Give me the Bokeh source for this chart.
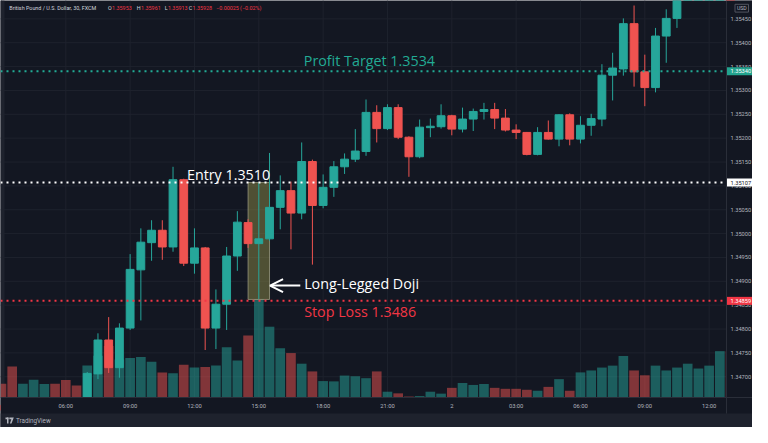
from bokeh.plotting import figure
from bokeh.models import Range1d, ColumnDataSource, Arrow, OpenHead
from bokeh.core.properties import value
from bokeh.embed import file_html
from bokeh.resources import INLINE

# ---------------- data ----------------
time_ticks = [6, 12, 18, 24, 30, 36, 42, 48, 54, 60, 66]
time_labels = ["06:00", "09:00", "12:00", "15:00", "18:00", "21:00", "2",
               "03:00", "06:00", "09:00", "12:00"]
price_ticks = [1.3470, 1.3475, 1.3480, 1.3485, 1.3490, 1.3495, 1.3500, 1.3505,
               1.3510, 1.3515, 1.3520, 1.3525, 1.3530, 1.3535, 1.3540, 1.3545]

opens = [
    1.34640, 1.34630, 1.34600, 1.34615, 1.34632, 1.34645, 1.34633, 1.34620, 1.34612, 1.34706,
    1.34777, 1.34719, 1.34802, 1.34924, 1.34981, 1.35007, 1.34972, 1.35113, 1.34938, 1.34970,
    1.34802, 1.34852, 1.34953, 1.35023, 1.34979, 1.34989, 1.35055, 1.35090, 1.35043, 1.35151,
    1.35059, 1.35097, 1.35140, 1.35156, 1.35172, 1.35254, 1.35220, 1.35264, 1.35202, 1.35161,
    1.35222, 1.35224, 1.35247, 1.35219, 1.35240, 1.35256, 1.35260, 1.35242, 1.35217, 1.35212,
    1.35166, 1.35212, 1.35198, 1.35249, 1.35198, 1.35227, 1.35240, 1.35332, 1.35345, 1.35440,
    1.35339, 1.35306, 1.35414, 1.35451, 1.35505, 1.35570, 1.35690, 1.35820, 1.35953]
highs = [
    1.34648, 1.34636, 1.34622, 1.34640, 1.34650, 1.34650, 1.34638, 1.34626, 1.34710, 1.34791,
    1.34825, 1.34812, 1.34957, 1.35011, 1.35028, 1.35028, 1.35140, 1.35115, 1.35011, 1.34972,
    1.34883, 1.34972, 1.35047, 1.35030, 1.35107, 1.35169, 1.35122, 1.35109, 1.35191, 1.35155,
    1.35124, 1.35152, 1.35168, 1.35219, 1.35281, 1.35269, 1.35271, 1.35271, 1.35204, 1.35239,
    1.35241, 1.35271, 1.35249, 1.35264, 1.35262, 1.35274, 1.35274, 1.35261, 1.35229, 1.35213,
    1.35223, 1.35237, 1.35250, 1.35252, 1.35246, 1.35251, 1.35355, 1.35379, 1.35451, 1.35478,
    1.35375, 1.35431, 1.35470, 1.35520, 1.35580, 1.35700, 1.35830, 1.35960, 1.35961]
lows = [
    1.34622, 1.34590, 1.34594, 1.34610, 1.34626, 1.34628, 1.34612, 1.34606, 1.34606, 1.34695,
    1.34708, 1.34698, 1.34798, 1.34818, 1.34943, 1.34945, 1.34962, 1.34932, 1.34916, 1.34756,
    1.34758, 1.34798, 1.34922, 1.34970, 1.34862, 1.34985, 1.35009, 1.34967, 1.35030, 1.34935,
    1.35053, 1.35077, 1.35125, 1.35150, 1.35163, 1.35191, 1.35217, 1.35198, 1.35119, 1.35158,
    1.35202, 1.35220, 1.35206, 1.35212, 1.35215, 1.35239, 1.35219, 1.35214, 1.35198, 1.35164,
    1.35164, 1.35197, 1.35183, 1.35185, 1.35189, 1.35205, 1.35225, 1.35279, 1.35331, 1.35308,
    1.35267, 1.35296, 1.35358, 1.35431, 1.35495, 1.35560, 1.35680, 1.35810, 1.35913]
closes = [
    1.34630, 1.34600, 1.34615, 1.34632, 1.34645, 1.34633, 1.34620, 1.34612, 1.34707, 1.34777,
    1.34719, 1.34802, 1.34925, 1.34982, 1.35007, 1.34972, 1.35113, 1.34938, 1.34970, 1.34802,
    1.34852, 1.34953, 1.35024, 1.34979, 1.34989, 1.35055, 1.35090, 1.35043, 1.35151, 1.35059,
    1.35097, 1.35140, 1.35156, 1.35173, 1.35254, 1.35220, 1.35264, 1.35202, 1.35161, 1.35223,
    1.35225, 1.35247, 1.35219, 1.35240, 1.35256, 1.35260, 1.35242, 1.35217, 1.35212, 1.35166,
    1.35212, 1.35198, 1.35249, 1.35198, 1.35227, 1.35241, 1.35332, 1.35347, 1.35440, 1.35339,
    1.35306, 1.35414, 1.35451, 1.35505, 1.35570, 1.35690, 1.35820, 1.35953, 1.35928]
volumes = [
    1430, 3200, 1430, 1830, 1400, 1430, 1800, 1230, 3300, 4330,
    5330, 3930, 4100, 4200, 3700, 2600, 2500, 3400, 3100, 3150,
    3300, 5200, 3830, 6430, 10170, 7330, 5100, 4600, 3500, 2700,
    1700, 1670, 2270, 2200, 2000, 2700, 600, 430, 100, 150,
    600, 400, 1000, 1500, 1300, 1400, 1000, 900, 900, 800,
    700, 1100, 1900, 700, 2600, 2800, 3100, 3300, 4300, 2800,
    2300, 3300, 2800, 3100, 3500, 3000, 3300, 4800, 4800]

profit_target = 1.35340
entry_price = 1.35107
stop_loss = 1.34859
doji_index = 24

# ---------------- styles / layout ----------------
BG = "#131722"
PANEL = "#1e222d"
UP = "#26a69a"
DOWN = "#ef5350"
GRID = "#1e222d"
AXLINE = "#2a2e39"
AXTXT = "#b2b5be"
GREEN_TXT = "#22ab94"
RED_TXT = "#f23645"
FONT = "Open Sans"

W, H = 752, 427          # canvas
PW, PH = 726, 397        # price pane
TA = 16                  # time-axis height
X0, X1 = -0.09, 67.62    # pane x extent (bar index)
Y0, Y1 = 1.346565, 1.354885  # pane price extent
VMAX = 41100             # volume at pane top
kx = (X1 - X0) / PW
ky = (Y1 - Y0) / PH
kv = VMAX / PH
XE = X0 + W * kx
YS = Y1 - H * ky


def px_x(px):
    return X0 + px * kx


def px_y(py):
    return Y1 - py * ky


idx = list(range(len(opens)))
colors = [UP if c >= o else DOWN for o, c in zip(opens, closes)]
src = ColumnDataSource(dict(
    x=idx, o=opens, h=highs, l=lows, c=closes, v=volumes, color=colors,
    top=[max(o, c) for o, c in zip(opens, closes)],
    bottom=[min(o, c) for o, c in zip(opens, closes)],
))

p = figure(width=W, height=H, x_range=Range1d(X0, XE), y_range=Range1d(YS, Y1),
           x_axis_location=None, y_axis_location=None,
           output_backend="svg", toolbar_location=None,
           min_border_left=0, min_border_right=0, min_border_top=0, min_border_bottom=0,
           background_fill_color=BG, border_fill_color=BG, outline_line_color=None)
p.extra_y_ranges = {"vol": Range1d(-(H - PH) * kv, VMAX)}
p.grid.visible = False

# grid
gx = [0] + time_ticks
p.segment(x0=gx, y0=[Y0] * len(gx), x1=gx, y1=[Y1] * len(gx), line_color=GRID, line_width=1)
p.segment(x0=[X0] * len(price_ticks), y0=price_ticks, x1=[X1] * len(price_ticks),
          y1=price_ticks, line_color=GRID, line_width=1)

# left toolbar edge strip
p.quad(left=[X0], right=[px_x(4)], bottom=[Y0], top=[Y1], fill_color=PANEL, line_color=None)

# volume
p.vbar(x="x", width=0.9, top="v", bottom=0, source=src, y_range_name="vol",
       fill_color="color", fill_alpha=0.5, line_color=None)

# doji highlight box
p.quad(left=[doji_index - 1], right=[doji_index + 1],
       top=[highs[doji_index]], bottom=[lows[doji_index]],
       fill_color="#8c8a45", fill_alpha=0.5, line_color="#a5a58a", line_alpha=0.7, line_width=1)

# candles
p.segment(x0="x", y0="l", x1="x", y1="h", source=src, line_color="color", line_width=1)
p.vbar(x="x", width=0.73, top="top", bottom="bottom", source=src,
       fill_color="color", line_color="color", line_width=1)

# covers for axis areas
p.quad(left=[X1], right=[XE], bottom=[YS], top=[Y1], fill_color=BG, line_color=None)
p.quad(left=[X0], right=[XE], bottom=[YS], top=[Y0], fill_color=BG, line_color=None)
p.quad(left=[X0], right=[XE], bottom=[YS], top=[px_y(PH + TA)], fill_color=PANEL, line_color=None)

# axis border lines
p.segment(x0=[X0], y0=[Y0], x1=[XE], y1=[Y0], line_color=AXLINE, line_width=1)
p.segment(x0=[X1], y0=[px_y(PH + TA)], x1=[X1], y1=[Y1], line_color=AXLINE, line_width=1)

# level lines
lv = [profit_target, entry_price, stop_loss]
lv_col = [GREEN_TXT, "#ffffff", RED_TXT]
p.segment(x0=[X0] * 3, y0=lv, x1=[X1] * 3, y1=lv, line_color=lv_col,
          line_width=2, line_dash="2 4")

# price axis labels
p.text(x=[X1 + 4 * kx] * len(price_ticks), y=price_ticks,
       text=["%.5f" % t for t in price_ticks], text_font=value("Roboto"),
       text_font_size="5.7px", text_color=AXTXT, text_baseline="middle", text_align="left")

# highlighted price labels
lv_bg = ["#22a38e", "#ffffff", "#f23645"]
lv_fg = ["#ffffff", "#131722", "#ffffff"]
p.quad(left=[X1 + 0.5 * kx] * 3, right=[XE] * 3,
       top=[v + 4 * ky for v in lv], bottom=[v - 4 * ky for v in lv],
       fill_color=lv_bg, line_color=None)
p.text(x=[X1 + 4 * kx] * 3, y=lv, text=["%.5f" % v for v in lv], text_font=value("Roboto"),
       text_font_size="5.7px", text_color=lv_fg, text_baseline="middle", text_align="left")

# USD box
p.quad(left=[px_x(734.5)], right=[px_x(748)], top=[px_y(3.8)], bottom=[px_y(11.6)],
       fill_color=BG, line_color="#50535e", line_width=1)
p.text(x=[px_x(741.3)], y=[px_y(7.8)], text=["USD"], text_font=value("Roboto"),
       text_font_size="5.2px", text_color=AXTXT, text_baseline="middle", text_align="center")

# time axis labels
p.text(x=time_ticks, y=[px_y(PH + 8)] * len(time_ticks), text=time_labels,
       text_font=value("Roboto"), text_font_size="5.8px", text_color=AXTXT,
       text_baseline="middle", text_align="center")

# footer
p.quad(left=[px_x(5), px_x(6.5)], right=[px_x(8), px_x(8)],
       top=[px_y(H - 10), px_y(H - 10)], bottom=[px_y(H - 8.3), px_y(H - 4)],
       fill_color=AXTXT, line_color=None)
p.patch(x=[px_x(8.8), px_x(13.3), px_x(11), px_x(9.4), px_x(10.8), px_x(8.8)],
        y=[px_y(H - 10), px_y(H - 10), px_y(H - 4), px_y(H - 4), px_y(H - 8.3), px_y(H - 8.3)],
        fill_color=AXTXT, line_color=None)
p.text(x=[px_x(15.5)], y=[px_y(H - 7)], text=["TradingView"], text_font=value("Roboto"),
       text_font_size="6.3px", text_color=AXTXT, text_baseline="middle", text_align="left")

# chart annotations
ann_x = [28.2, 17.3, 28.23, 28.23]
ann_y = [1.35363, 1.35124, 1.34896, 1.34837]
ann_t = ["Profit Target 1.3534", "Entry 1.3510", "Long-Legged Doji", "Stop Loss 1.3486"]
ann_c = [GREEN_TXT, "#ffffff", "#ffffff", RED_TXT]
p.text(x=ann_x, y=ann_y, text=ann_t, text_color=ann_c, text_font=value(FONT),
       text_font_size="14.3px", text_baseline="middle", text_align="left")

arrow_y = 1.34891
p.add_layout(Arrow(end=OpenHead(size=13, line_color="#ffffff", line_width=2),
                   x_start=doji_index + 3.87, y_start=arrow_y,
                   x_end=doji_index + 1.05, y_end=arrow_y,
                   line_color="#ffffff", line_width=2))

# header
hdr_t = ["British Pound / U.S. Dollar, 30, FXCM", "O", "1.35953", "H", "1.35961",
         "L", "1.35913", "C", "1.35928", "\u22120.00025 (\u22120.02%)"]
hdr_px = [8.8, 107.6, 111.6, 136.2, 140.6, 164.2, 167.4, 188.2, 192.0, 215.6]
hdr_c = ["#d1d4dc", "#d1d4dc", RED_TXT, "#d1d4dc", RED_TXT, "#d1d4dc", RED_TXT,
         "#d1d4dc", RED_TXT, RED_TXT]
p.text(x=[px_x(v) for v in hdr_px], y=[px_y(7)] * len(hdr_t), text=hdr_t,
       text_color=hdr_c, text_font=value("Roboto"), text_font_size="5.4px",
       text_baseline="middle", text_align="left")

open("out.html", "w").write(file_html(p, INLINE))
